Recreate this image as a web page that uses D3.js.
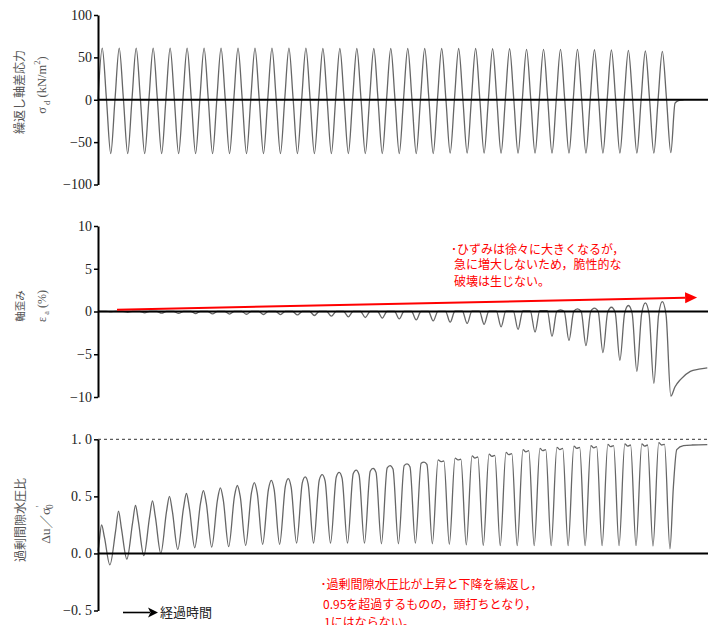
<!DOCTYPE html>
<html><head><meta charset="utf-8">
<script src="https://cdn.jsdelivr.net/npm/d3@7"></script>
<style>body{margin:0;background:#fff}</style>
</head><body>
<svg id="c" width="719" height="625"></svg>
<script>
// ---------- data ----------
const cycleCount = 34;
const sigmaPeak = [61,61,61,61,61,61,61,61,61,61,61,61,61,60.5,60.5,60.5,60.5,60.5,60.5,60.5,60.5,60.5,60.5,60.2,60.2,59.4,59.4,59.4,59.4,59,58.7,58.3,57.5,57];
const sigmaTrough = [-63.5,-63.5,-63.5,-63.5,-63.5,-63.5,-63.5,-63.5,-63.5,-63.5,-63.5,-63.5,-63.5,-63.5,-63.5,-63.5,-63.5,-63.5,-63.5,-63.5,-63,-63,-63,-63,-63,-63,-63,-63,-63,-63,-63,-63,-63,-62.5];
const sigmaTailTime = [34.0, 34.2, 34.5];
const sigmaTailValue = [-4, -1, 0];

const strainPeak = [0,0,0,0,0,0,0,0,0,0,0,0,0,0,0,0,0,0,0,0,0.02,0.03,0.04,0.05,0.05,0.06,0.1,0.2,0.3,0.4,0.5,0.7,1.0,1.15];
const strainShoulder = [0,0,0,0,0,0,0,0,0,0,0,0,0,0,0,0,0,0,0,0,0.02,0.03,0.04,0.05,0.05,0.06,0.1,0.0,0.0,0.0,-0.1,-0.2,-0.3,-0.4];
const strainTrough = [-0.05,-0.1,-0.15,-0.2,-0.22,-0.25,-0.28,-0.3,-0.32,-0.35,-0.37,-0.4,-0.47,-0.55,-0.63,-0.7,-0.78,-0.86,-0.98,-1.1,-1.25,-1.4,-1.5,-1.8,-2.1,-2.4,-2.9,-3.4,-4.0,-4.8,-5.7,-7.0,-8.4,-9.9];
const strainTailTime = [34.0, 34.3, 34.9, 35.4, 35.9];
const strainTailValue = [-8.8, -8.0, -7.0, -6.75, -6.6];

const poreRise = [0.06,0.20,0.27,0.32,0.37,0.40,0.44,0.47,0.50,0.53,0.56,0.59,0.62,0.645,0.67,0.70,0.72,0.75,0.77,0.79,0.82,0.835,0.855,0.87,0.885,0.91,0.92,0.93,0.94,0.945,0.955,0.96,0.96,0.97];
const poreTop = [0.25,0.37,0.42,0.46,0.50,0.525,0.55,0.575,0.595,0.62,0.64,0.655,0.67,0.69,0.71,0.73,0.745,0.77,0.785,0.80,0.805,0.82,0.835,0.85,0.865,0.89,0.90,0.91,0.92,0.925,0.935,0.94,0.94,0.95];
const poreFall = [0.14,0.22,0.28,0.32,0.37,0.40,0.44,0.47,0.50,0.53,0.56,0.58,0.61,0.635,0.66,0.69,0.71,0.74,0.76,0.78,0.81,0.825,0.845,0.86,0.875,0.90,0.91,0.92,0.93,0.935,0.945,0.95,0.95,0.955];
const poreTrough = [-0.10,-0.05,-0.02,0.00,0.035,0.05,0.055,0.06,0.07,0.08,0.08,0.09,0.09,0.09,0.09,0.09,0.085,0.085,0.09,0.085,0.08,0.075,0.07,0.068,0.068,0.068,0.068,0.068,0.068,0.068,0.068,0.068,0.065,0.04];
const poreTailTime = [33.9, 34.1, 34.5, 35.0, 35.9];
const poreTailValue = [0.58, 0.91, 0.944, 0.95, 0.953];

const sigmaTicks = [100, 50, 0, -50, -100];
const sigmaTickLabels = ["100", "50", "0", "\u221250", "\u2212100"];
const strainTicks = [10, 5, 0, -5, -10];
const strainTickLabels = ["10", "5", "0", "\u22125", "\u221210"];
const poreTicks = [1.0, 0.5, 0.0, -0.5];
const poreTickLabels = ["1. 0", "0. 5", "0. 0", "\u22120. 5"];

const strainNoteLines = ["\uFF65ひずみは徐々に大きくなるが，", "急に増大しないため，脆性的な", "破壊は生じない。"];
const poreNoteLines = ["\uFF65過剰間隙水圧比が上昇と下降を繰返し，", "0.95を超過するものの，頭打ちとなり，", "1にはならない。"];
const arrowFrom = {t: 1.12, v: 0.2};
const arrowTo = {t: 35.3, v: 1.65};

// ---------- scales ----------
const svg = d3.select("#c");
const x = d3.scaleLinear().domain([0, 36]).range([98, 709]);
const ySig = d3.scaleLinear().domain([-100, 100]).range([184.5, 15]);
const yStr = d3.scaleLinear().domain([-10, 10]).range([397, 226]);
const yPore = d3.scaleLinear().domain([-0.5, 1.0]).range([610.5, 439.3]);

const JP = "'Noto Sans CJK JP', 'Noto Sans', sans-serif";
const SERIF = "'Liberation Serif', 'DejaVu Serif', serif";

// ---------- series points ----------
const sigPts = [{t: 0, v: 0}];
for (let k = 0; k < cycleCount; k++) {
  sigPts.push({t: k + 0.25, v: sigmaPeak[k]}, {t: k + 0.5, v: 0}, {t: k + 0.75, v: sigmaTrough[k]});
  if (k < cycleCount - 1) sigPts.push({t: k + 1, v: 0});
}
sigmaTailTime.forEach((t, i) => sigPts.push({t, v: sigmaTailValue[i]}));

const strPts = [{t: 0, v: 0}];
for (let k = 0; k < cycleCount; k++) {
  strPts.push({t: k + 0.03, v: strainShoulder[k]}, {t: k + 0.25, v: strainPeak[k]},
              {t: k + 0.47, v: strainShoulder[k]}, {t: k + 0.75, v: strainTrough[k]});
}
strainTailTime.forEach((t, i) => strPts.push({t, v: strainTailValue[i]}));

const porePts = [{t: 0, v: 0.02}];
for (let k = 0; k < cycleCount; k++) {
  porePts.push({t: k + 0.04, v: poreRise[k]}, {t: k + 0.21, v: poreTop[k]},
               {t: k + 0.38, v: poreFall[k]}, {t: k + 0.70, v: poreTrough[k]});
}
poreTailTime.forEach((t, i) => porePts.push({t, v: poreTailValue[i]}));

function drawSeries(pts, y) {
  svg.append("path").datum(pts)
    .attr("fill", "none").attr("stroke", "#666").attr("stroke-width", 1.3)
    .attr("d", d3.line().x(d => x(d.t)).y(d => y(d.v)).curve(d3.curveMonotoneX));
}
drawSeries(sigPts, ySig);
drawSeries(strPts, yStr);
drawSeries(porePts, yPore);

// reference lines
[[ySig, 0], [yStr, 0], [yPore, 0]].forEach(([y, v]) => {
  svg.append("line").attr("x1", x(0)).attr("x2", x(36) - 1).attr("y1", y(v)).attr("y2", y(v))
    .attr("stroke", "#000").attr("stroke-width", 2);
});
svg.append("line").attr("x1", x(0)).attr("x2", x(36) - 1).attr("y1", yPore(1)).attr("y2", yPore(1))
  .attr("stroke", "#333").attr("stroke-width", 1).attr("stroke-dasharray", "3,3");

// axes
function axis(scale, ticks, labels) {
  const g = svg.append("g").attr("transform", `translate(${x(0)},0)`)
    .call(d3.axisLeft(scale).tickValues(ticks).tickFormat((d, i) => labels[i]).tickSize(4).tickSizeOuter(0).tickPadding(2));
  g.attr("font-family", null).attr("font-size", null);
  g.select(".domain").attr("stroke", "#000").attr("stroke-width", 2);
  g.selectAll(".tick line").attr("stroke", "#000").attr("stroke-width", 1.5);
  g.selectAll(".tick text").style("font-family", SERIF).style("font-size", "14px").attr("fill", "#222");
}
axis(ySig, sigmaTicks, sigmaTickLabels);
axis(yStr, strainTicks, strainTickLabels);
axis(yPore, poreTicks, poreTickLabels);

// y labels
function vlabel(cx, cy, size, family, parts) {
  const t = svg.append("text").attr("transform", `translate(${cx},${cy}) rotate(-90)`)
    .attr("text-anchor", "middle").attr("dominant-baseline", "central")
    .style("font-family", family).attr("font-size", size).attr("fill", "#555");
  parts.forEach(p => {
    const s = t.append("tspan").text(p.s);
    if (p.shift) s.attr("baseline-shift", p.shift).attr("font-size", size * 0.7);
    if (p.dx) s.attr("dx", p.dx);
    if (p.family) s.style("font-family", p.family);
  });
}
vlabel(18, 92, 12, JP, [{s: "繰返し軸差応力"}]);
vlabel(42, 85, 12.5, SERIF, [{s: "σ"}, {s: "d", shift: "sub", dx: 2}, {s: " (kN/m"}, {s: "2", shift: "super"}, {s: ")"}]);
vlabel(19, 306, 10.5, JP, [{s: "軸歪み"}]);
vlabel(42, 306, 12, SERIF, [{s: "ε"}, {s: "a", shift: "sub", dx: 2}, {s: " (%)"}]);
vlabel(19, 520, 12, JP, [{s: "過剰間隙水圧比"}]);
vlabel(45, 524, 13.5, SERIF, [{s: "Δu"}, {s: "／", family: JP}, {s: "σ"}, {s: "'", shift: "super"}, {s: "0", shift: "sub", dx: -3}]);

// red arrow
const ax1 = x(arrowFrom.t), ay1 = yStr(arrowFrom.v), ax2 = x(arrowTo.t), ay2 = yStr(arrowTo.v);
const ang = Math.atan2(ay2 - ay1, ax2 - ax1), hl = 12, hw = 5.5;
const bx = ax2 - hl * Math.cos(ang), by = ay2 - hl * Math.sin(ang);
svg.append("line").attr("x1", ax1).attr("y1", ay1).attr("x2", bx).attr("y2", by)
  .attr("stroke", "#f00").attr("stroke-width", 2);
svg.append("path").attr("fill", "#f00")
  .attr("d", `M${ax2},${ay2}L${bx - hw * Math.sin(ang)},${by + hw * Math.cos(ang)}L${bx + hw * Math.sin(ang)},${by - hw * Math.cos(ang)}Z`);

// red notes
function note(baselines, lines, xs) {
  lines.forEach((l, i) => svg.append("text").attr("x", xs[i]).attr("y", baselines[i])
    .style("font-family", JP).attr("font-size", 12).attr("fill", "#f00").text(l));
}
note([253.5, 269, 285.5], strainNoteLines, [451, 454, 454]);
note([589, 608.5, 627], poreNoteLines, [320.5, 323, 324]);

// elapsed-time arrow
svg.append("line").attr("x1", 123).attr("x2", 150).attr("y1", 612.5).attr("y2", 612.5)
  .attr("stroke", "#000").attr("stroke-width", 1.6);
svg.append("path").attr("d", "M158,612.5L148,607.5L150.5,612.5L148,617.5Z").attr("fill", "#000");
svg.append("text").attr("x", 160).attr("y", 617).style("font-family", JP).attr("font-size", 13)
  .attr("fill", "#222").text("経過時間");
</script>
</body></html>
